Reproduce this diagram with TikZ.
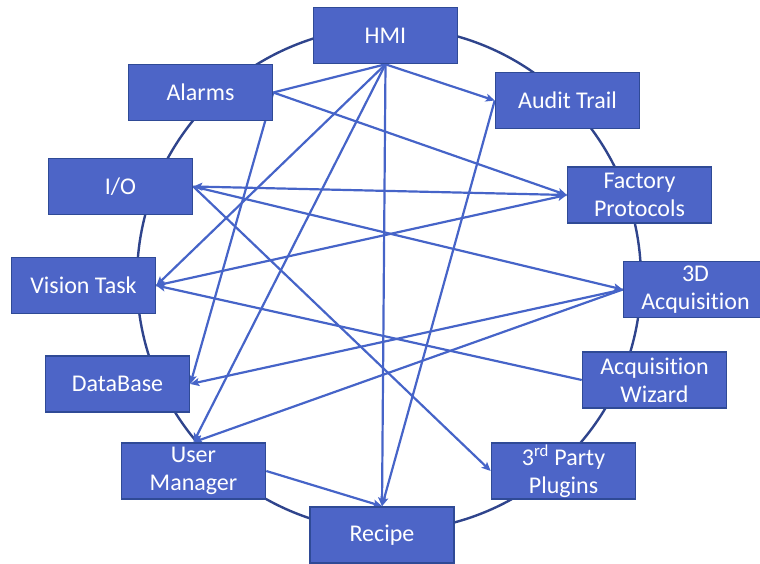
\documentclass[tikz,border=0pt]{standalone}
\usepackage{fontspec}
\setmainfont{Carlito}[Ligatures=NoCommon]
\usetikzlibrary{arrows.meta,backgrounds}
\definecolor{boxfill}{RGB}{77,101,199}
\definecolor{boxline}{RGB}{47,74,150}
\definecolor{ringc}{RGB}{47,68,140}
\definecolor{connc}{RGB}{70,100,200}
\begin{document}
\begin{tikzpicture}[x=1pt,y=-1pt,
  blk/.style={draw=boxline, line width=1.6pt, fill=boxfill, text=white,
    minimum width=144pt, minimum height=56pt, inner sep=0pt, align=center,
    font=\fontsize{24}{28}\selectfont},
  link/.style={draw=connc, line width=2.2pt},
  arr/.style={link, -{Stealth[length=9pt,width=8pt,inset=2pt]}},
  ring/.style={draw=ringc, line width=2.4pt}]
\useasboundingbox (0,0) rectangle (760,564);
\node[blk] (hmi) at (385.5,35.5) {HMI};
\node[blk] (alarms) at (200.5,92.5) {Alarms};
\node[blk] (audit) at (567.5,100.5) {Audit Trail};
\node[blk] (fp) at (639.5,195) {Factory\\Protocols};
\node[blk] (io) at (120.5,186.5) {I/O};
\node[blk] (vt) at (83.5,285.5) {Vision Task};
\node[blk] (db) at (117.5,384) {DataBase};
\node[blk] (acq) at (695.5,289.5) {3D\\Acquisition};
\node[blk] (aw) at (654.5,380) {Acquisition\\Wizard};
\node[blk] (um) at (193.5,471) {User\\Manager};
\node[blk] (rec) at (382,535) {Recipe};
\node[blk] (tp) at (563.5,471) {3\textsuperscript{rd} Party\\Plugins};
\begin{pgfonlayer}{background}
\draw[ring] (389,279) circle (252pt);
\draw[arr] (hmi.south) -- (audit.west);
\draw[link] (hmi.south) -- (alarms.east);
\draw[arr] (hmi.south) -- (vt.east);
\draw[arr] (hmi.south) -- (um.north);
\draw[arr] (hmi.south) -- (rec.north);
\draw[arr] (alarms.east) -- (fp.west);
\draw[arr] (alarms.east) -- (db.east);
\draw[arr] (fp.west) -- (io.east);
\draw[arr] (io.east) -- (acq.west);
\draw[arr] (io.east) -- (tp.west);
\draw[arr] (vt.east) -- (fp.west);
\draw[arr] (aw.west) -- (vt.east);
\draw[arr] (acq.west) -- (db.east);
\draw[arr] (acq.west) -- (um.north);
\draw[arr] (audit.west) -- (rec.north);
\draw[arr] (um.east) -- (rec.north);
\end{pgfonlayer}
\end{tikzpicture}
\end{document}
